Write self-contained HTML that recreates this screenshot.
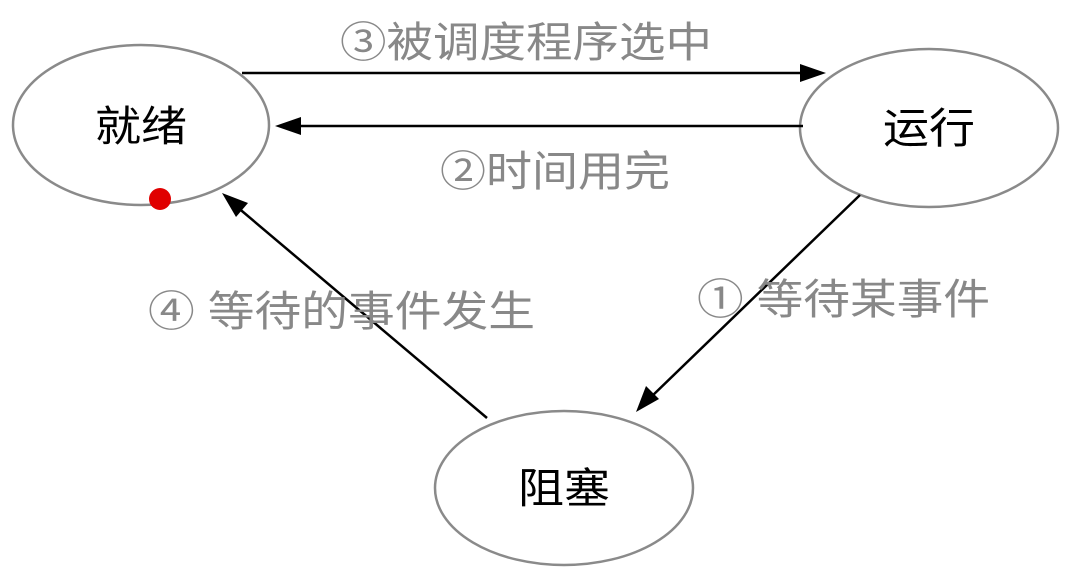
<!DOCTYPE html>
<html><head><meta charset="utf-8"><style>
html,body{margin:0;padding:0;background:#fff;}
svg{display:block;}
text{font-family:"Liberation Sans","Noto Sans CJK SC",sans-serif;}
</style></head><body>
<svg width="1072" height="574" viewBox="0 0 1072 574">
<g fill="#fff" stroke="#8a8a8a" stroke-width="2.5">
<ellipse cx="141" cy="125" rx="128" ry="80"/>
<ellipse cx="929" cy="128" rx="129" ry="79"/>
<ellipse cx="564" cy="488" rx="129" ry="77"/>
</g>
<g stroke="#000" stroke-width="2.5" fill="none">
<line x1="242" y1="73" x2="805" y2="73"/>
<line x1="803" y1="126" x2="295" y2="126"/>
<line x1="860" y1="195" x2="650" y2="398"/>
<line x1="487" y1="418" x2="236" y2="206"/>
</g>
<g fill="#000">
<polygon points="826,73 800,64 800,82"/>
<polygon points="275,126 301,117 301,135"/>
<polygon points="636,412 646,386 659,399"/>
<polygon points="222,193 248,203 236,217"/>
</g>
<circle cx="160" cy="199" r="11" fill="#e00000"/>
<g font-size="42" fill="#000">
<text x="95" y="141" textLength="92" lengthAdjust="spacingAndGlyphs">就绪</text>
<text x="883" y="143" textLength="92" lengthAdjust="spacingAndGlyphs">运行</text>
<text x="518" y="503" textLength="92" lengthAdjust="spacingAndGlyphs">阻塞</text>
</g>
<g font-size="42" fill="#888">
<text x="340" y="57" textLength="372" lengthAdjust="spacingAndGlyphs">③被调度程序选中</text>
<text x="440" y="186" textLength="230" lengthAdjust="spacingAndGlyphs">②时间用完</text>
<text x="148" y="326" textLength="387" lengthAdjust="spacingAndGlyphs">④ 等待的事件发生</text>
<text x="697" y="314" textLength="293" lengthAdjust="spacingAndGlyphs">① 等待某事件</text>
</g>
</svg>
</body></html>
